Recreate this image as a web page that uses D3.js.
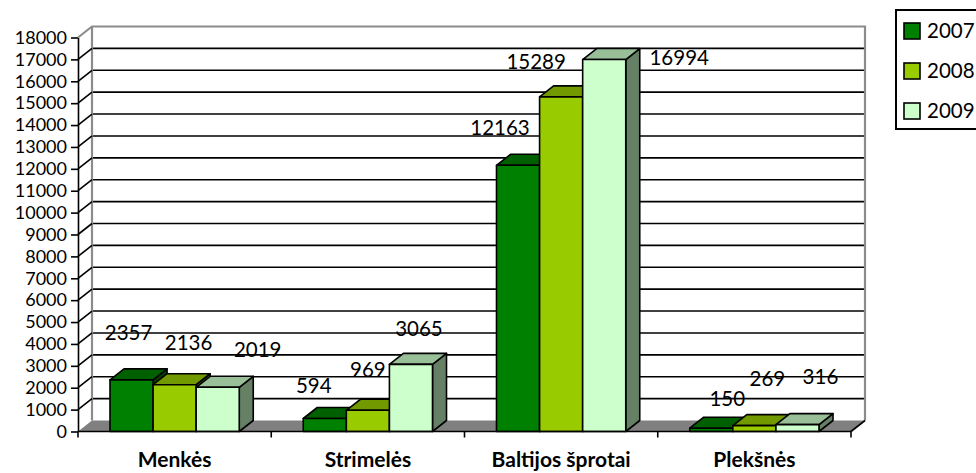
<!DOCTYPE html>
<html>
<head>
<meta charset="utf-8">
<script src="https://cdn.jsdelivr.net/npm/d3@7"></script>
<style>
  body { margin: 0; background: #fff; }
  svg { display: block; font-family: Lato, "Open Sans", sans-serif; }
</style>
</head>
<body>
<div id="chart"></div>
<script>
// Data
const categories = ["Menkės", "Strimelės", "Baltijos šprotai", "Plekšnės"];
const years = ["2007", "2008", "2009"];
const values2007 = [2357, 594, 12163, 150];
const values2008 = [2136, 969, 15289, 269];
const values2009 = [2019, 3065, 16994, 316];
const yTicks = [0, 1000, 2000, 3000, 4000, 5000, 6000, 7000, 8000, 9000,
                10000, 11000, 12000, 13000, 14000, 15000, 16000, 17000, 18000];

const series = [values2007, values2008, values2009];

// Colours: front, top, side
const frontColor = ["#008000", "#99cc00", "#ccffcc"];
const topColor = ["#006000", "#739900", "#99bf99"];
const sideColor = ["#004000", "#4d6600", "#668066"];

// Excel-like label placement nudges (px, relative to bar centre / bar top)
const labelNudge = [
  [[-3, -47], [14, -42], [40, -37]],
  [[-11, -33], [0, -40], [8, -36]],
  [[-18, -37], [-25, -35], [75, -2]],
  [[16, -29], [13, -47], [23, -48]]
];

const width = 976, height = 473;
const DX = 14, DY = -11; // depth offset of the 3D box

const svg = d3.select("#chart").append("svg")
    .attr("width", width)
    .attr("height", height);

// Scales
const x = d3.scaleBand()
    .domain(categories)
    .range([78, 851]);

const xs = d3.scaleBand()
    .domain(years)
    .range([32, x.bandwidth() - 32]);

const y = d3.scaleLinear()
    .domain([0, 18000])
    .range([431.5, 37.5]);

const x0 = x.range()[0], x1 = x.range()[1];

// Back wall gridlines
svg.append("g")
  .selectAll("line")
  .data(yTicks.slice(1, -1))
  .enter().append("line")
    .attr("x1", x0 + DX)
    .attr("x2", x1 + DX)
    .attr("y1", d => y(d) + DY)
    .attr("y2", d => y(d) + DY)
    .attr("stroke", "#000")
    .attr("stroke-width", 1.6);

// Wall border (gray)
svg.append("path")
    .attr("d", `M${x0},${y(18000)} L${x0 + DX},${y(18000) + DY} L${x1 + DX},${y(18000) + DY} L${x1 + DX},${y(0) + DY}`)
    .attr("fill", "none")
    .attr("stroke", "#8c8c8c")
    .attr("stroke-width", 2.2);
svg.append("line")
    .attr("x1", x0 + DX).attr("x2", x0 + DX)
    .attr("y1", y(18000) + DY).attr("y2", y(0) + DY)
    .attr("stroke", "#8c8c8c")
    .attr("stroke-width", 2.2);

// Side wall diagonals
svg.append("g")
  .selectAll("line")
  .data(yTicks.slice(1, -1))
  .enter().append("line")
    .attr("x1", x0)
    .attr("x2", x0 + DX)
    .attr("y1", d => y(d))
    .attr("y2", d => y(d) + DY)
    .attr("stroke", "#000")
    .attr("stroke-width", 1.6);

// Floor
svg.append("path")
    .attr("d", `M${x0},${y(0)} L${x1},${y(0)} L${x1 + DX},${y(0) + DY} L${x0 + DX},${y(0) + DY} Z`)
    .attr("fill", "#808080");
svg.append("line")
    .attr("x1", x1).attr("y1", y(0))
    .attr("x2", x1 + DX).attr("y2", y(0) + DY)
    .attr("stroke", "#000")
    .attr("stroke-width", 1.6);

// Bars
categories.forEach((cat, ci) => {
  years.forEach((yr, si) => {
    const v = series[si][ci];
    const bx = x(cat) + xs(yr);
    const bw = xs.bandwidth();
    const yt = y(v), yb = y(0);
    const g = svg.append("g")
        .attr("stroke", "#000")
        .attr("stroke-width", 1.6)
        .attr("stroke-linejoin", "round");

    g.append("path")
        .attr("d", `M${bx + bw},${yb} L${bx + bw + DX},${yb + DY} L${bx + bw + DX},${yt + DY} L${bx + bw},${yt} Z`)
        .attr("fill", sideColor[si]);
    g.append("path")
        .attr("d", `M${bx},${yt} L${bx + DX},${yt + DY} L${bx + bw + DX},${yt + DY} L${bx + bw},${yt} Z`)
        .attr("fill", topColor[si]);
    g.append("rect")
        .attr("x", bx)
        .attr("y", yt)
        .attr("width", bw)
        .attr("height", yb - yt)
        .attr("fill", frontColor[si]);
  });
});

// Y axis
const yAxis = svg.append("g")
    .attr("transform", `translate(${x0},0)`)
    .call(d3.axisLeft(y).tickValues(yTicks).tickFormat(d3.format("d"))
      .tickSize(7).tickSizeOuter(0).tickPadding(4));
yAxis.select(".domain").attr("stroke", "#000").attr("stroke-width", 1.6);
yAxis.selectAll(".tick line").attr("stroke", "#000").attr("stroke-width", 1.6);
yAxis.selectAll(".tick text")
    .attr("fill", "#000")
    .style("font-family", "Lato, sans-serif")
    .style("font-size", "18px");

// X axis
const xAxis = svg.append("g")
    .attr("transform", `translate(0,${y(0)})`);
xAxis.append("line")
    .attr("x1", x0).attr("x2", x1)
    .attr("stroke", "#000")
    .attr("stroke-width", 1.6);
xAxis.selectAll(".xtick")
  .data(categories.map(c => x(c)).concat([x1]))
  .enter().append("line")
    .attr("x1", d => d).attr("x2", d => d)
    .attr("y1", 0).attr("y2", 6)
    .attr("stroke", "#000")
    .attr("stroke-width", 1.6);
xAxis.selectAll(".xlabel")
  .data(categories)
  .enter().append("text")
    .attr("x", d => x(d) + x.bandwidth() / 2)
    .attr("y", 35)
    .attr("text-anchor", "middle")
    .style("font-size", "21px")
    .style("font-weight", "bold")
    .text(d => d);

// Data labels
categories.forEach((cat, ci) => {
  years.forEach((yr, si) => {
    const v = series[si][ci];
    const n = labelNudge[ci][si];
    svg.append("text")
        .attr("x", x(cat) + xs(yr) + xs.bandwidth() / 2 + n[0])
        .attr("y", y(v) + n[1])
        .attr("dy", "0.35em")
        .attr("text-anchor", "middle")
        .style("font-size", "20.5px")
        .text(v);
  });
});

// Legend
const legend = svg.append("g")
    .attr("transform", "translate(896,10)");
legend.append("rect")
    .attr("width", 100)
    .attr("height", 119)
    .attr("fill", "#fff")
    .attr("stroke", "#000")
    .attr("stroke-width", 2);
const item = legend.selectAll(".item")
  .data(years)
  .enter().append("g")
    .attr("transform", (d, i) => `translate(8,${13 + i * 40})`);
item.append("rect")
    .attr("width", 16)
    .attr("height", 16)
    .attr("fill", (d, i) => frontColor[i])
    .attr("stroke", "#000")
    .attr("stroke-width", 1.6);
item.append("text")
    .attr("x", 23)
    .attr("y", 8)
    .attr("dy", "0.35em")
    .style("font-size", "20.5px")
    .text(d => d);
</script>
</body>
</html>
